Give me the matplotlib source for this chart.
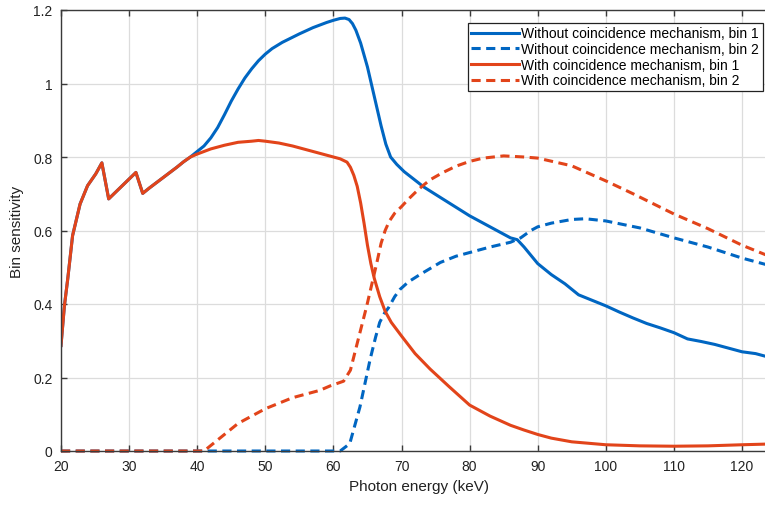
import numpy as np
import matplotlib
matplotlib.use('Agg')
import matplotlib.pyplot as plt
from matplotlib.ticker import FuncFormatter

plt.rcParams['font.family'] = ['Liberation Sans', 'DejaVu Sans']

# shared low-energy part (both bin 1 curves overlap here)
e_low = [20, 20.5, 21, 21.7, 22.8, 23.9, 25.1, 26, 27, 28, 29, 30, 31, 32, 33, 34, 35, 36, 37, 38, 39]
v_low = [0.287, 0.395, 0.47, 0.586, 0.672, 0.722, 0.754, 0.784, 0.686, 0.704, 0.722, 0.740, 0.758,
         0.701, 0.716, 0.730, 0.744, 0.758, 0.772, 0.787, 0.80]

# without coincidence, bin 1
e_wo1 = [40, 41, 42, 43, 44, 45, 46, 47, 48, 49, 50, 51, 52.5, 55, 57, 59, 60, 61, 61.7, 62.3, 62.8,
         63.3, 64, 65, 66, 67, 67.7, 68.4, 69.3, 70.4, 73.3, 75.7, 80, 84, 86, 87, 88, 90, 92, 94, 96,
         98, 100, 102, 104, 106, 108, 110, 112, 114, 116, 118, 120, 122, 124]
v_wo1 = [0.815, 0.83, 0.852, 0.88, 0.915, 0.952, 0.985, 1.015, 1.04, 1.062, 1.08, 1.095, 1.112,
         1.135, 1.152, 1.166, 1.172, 1.177, 1.178, 1.174, 1.163, 1.145, 1.11, 1.045, 0.965, 0.885,
         0.835, 0.80, 0.78, 0.76, 0.718, 0.69, 0.64, 0.60, 0.58, 0.575, 0.555, 0.51, 0.48, 0.455,
         0.425, 0.41, 0.395, 0.378, 0.362, 0.347, 0.335, 0.322, 0.305, 0.298, 0.29, 0.28, 0.27,
         0.265, 0.255]

# without coincidence, bin 2
e_wo2 = [20, 61, 62.4, 63.9, 65.4, 66.2, 66.8, 67.5, 68.1, 69, 69.8, 71, 72.7, 75.7, 78, 80, 83, 86,
         87.5, 89, 90, 92, 95, 97, 100, 105, 110, 115, 120, 124]
v_wo2 = [0, 0, 0.02, 0.12, 0.25, 0.31, 0.35, 0.375, 0.39, 0.42, 0.44, 0.46, 0.48, 0.513, 0.53, 0.54,
         0.555, 0.568, 0.58, 0.60, 0.61, 0.62, 0.63, 0.632, 0.626, 0.607, 0.58, 0.555, 0.525, 0.505]

# with coincidence, bin 1
e_w1 = [40, 42, 44, 46, 48, 49, 50, 52, 54, 56, 58, 60, 61, 62, 62.5, 63, 63.5, 64, 64.5, 65, 65.5,
        66, 66.8, 67.6, 68.5, 70, 72, 74.2, 77, 80, 83, 86, 88, 90, 92, 95, 100, 105, 110, 115, 120,
        124]
v_w1 = [0.808, 0.822, 0.832, 0.84, 0.843, 0.845, 0.843, 0.838, 0.83, 0.82, 0.81, 0.80, 0.795, 0.786,
        0.772, 0.75, 0.72, 0.675, 0.62, 0.56, 0.51, 0.47, 0.42, 0.38, 0.35, 0.313, 0.265, 0.223,
        0.175, 0.125, 0.095, 0.07, 0.057, 0.045, 0.035, 0.025, 0.017, 0.014, 0.013, 0.014, 0.017,
        0.019]

# with coincidence, bin 2
e_w2 = [20, 41, 42, 43, 44, 45, 46, 48, 50, 52, 54, 56, 58, 59.5, 61.5, 62.5, 63.4, 64.9, 66.4, 67,
        67.6, 68.2, 69, 70, 71, 72, 73, 74.2, 76, 78, 80, 82, 85, 88, 90, 95, 100, 104, 110, 115,
        120, 124]
v_w2 = [0, 0, 0.015, 0.03, 0.045, 0.06, 0.075, 0.095, 0.115, 0.13, 0.145, 0.155, 0.165, 0.177,
        0.19, 0.22, 0.286, 0.395, 0.514, 0.565, 0.60, 0.625, 0.647, 0.665, 0.685, 0.703, 0.72,
        0.738, 0.757, 0.775, 0.788, 0.797, 0.803, 0.80, 0.797, 0.776, 0.735, 0.70, 0.645, 0.605,
        0.56, 0.53]

labels = ['Without coincidence mechanism, bin 1', 'Without coincidence mechanism, bin 2',
          'With coincidence mechanism, bin 1', 'With coincidence mechanism, bin 2']

blue = '#0066C2'
red = '#E2441A'

fig = plt.figure(figsize=(7.65, 5.06), dpi=100)
W, H = 765, 506
x0, x1 = 61, 61 + 105 * 6.81
y0, y1 = 452, 11
ax = fig.add_axes([x0 / W, 1 - y0 / H, (x1 - x0) / W, (y0 - y1) / H])

lw = 2.2
dash = (3, 1.8)
ax.plot(e_low + e_wo1, v_low + v_wo1, color=blue, lw=lw, label=labels[0])
ax.plot(e_wo2, v_wo2, color=blue, lw=lw, dashes=dash, label=labels[1], clip_on=False)
ax.plot(e_low + e_w1, v_low + v_w1, color=red, lw=lw, label=labels[2])
ax.plot(e_w2, v_w2, color=red, lw=lw, dashes=dash, label=labels[3], clip_on=False)

ax.set_xlim(20, 125)
ax.set_ylim(0, 1.2)
ax.set_xticks(np.arange(20, 130, 10))
ax.set_yticks(np.arange(0, 1.21, 0.2))
ax.yaxis.set_major_formatter(FuncFormatter(lambda v, p: '%g' % round(v, 2)))
ax.grid(True, color='#dcdcdc', lw=0.9)
ax.set_axisbelow(True)
for s in ax.spines.values():
    s.set_color('#3a3a3a')
    s.set_linewidth(1.0)
ax.tick_params(direction='in', length=4, width=1.0, color='#3a3a3a', labelsize=10,
               top=True, right=True, labelcolor='#222222')
ax.tick_params(axis='y', pad=6)
ax.tick_params(axis='x', pad=6)

ax.set_xlabel('Photon energy (keV)', fontsize=11, labelpad=4, color='#222222')
ax.set_ylabel('Bin sensitivity', fontsize=11, labelpad=7, color='#222222')

leg = ax.legend(loc='upper left', bbox_to_anchor=(468 / W, 1 - 24 / H), bbox_transform=fig.transFigure,
                fontsize=10, handlelength=3.45, handletextpad=0.15, labelspacing=0.12,
                borderpad=0.25, borderaxespad=0, fancybox=False, framealpha=1)
leg.get_frame().set_edgecolor('#222222')
leg.get_frame().set_linewidth(0.9)

plt.savefig('out.png', dpi=100)
